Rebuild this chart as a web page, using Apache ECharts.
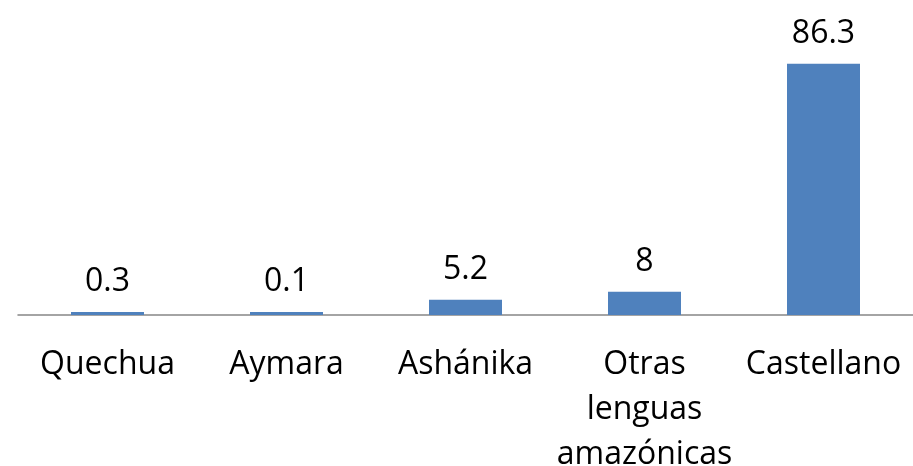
<!DOCTYPE html>
<html>
<head>
    <meta charset="utf-8" />
    <title></title>
    <script src="https://cdn.jsdelivr.net/npm/echarts@6/dist/echarts.min.js"></script>
    <style>
        html, body { margin: 0; padding: 0; background: #fff; }
        #chart { width: 913px; height: 466px; }
    </style>
</head>
<body>
    <div id="chart"></div>
    <script>
        var categories = ["Quechua", "Aymara", "Ashánika", "Otras\nlenguas\namazónicas", "Castellano"];
        var values = [0.3, 0.1, 5.2, 8, 86.3];

        var myChart = echarts.init(document.getElementById("chart"), null, { renderer: "canvas" });

        var option = {
            animation: false,
            grid: { left: 18, right: 0, top: 24, bottom: 151, outerBoundsMode: "none" },
            xAxis: {
                type: "category",
                data: categories,
                axisLine: { lineStyle: { color: "#868686", width: 1.5 } },
                axisTick: { show: false },
                axisLabel: {
                    color: "#000",
                    fontFamily: "Open Sans",
                    fontSize: 32,
                    lineHeight: 45,
                    margin: 27,
                    interval: 0
                }
            },
            yAxis: {
                type: "value",
                min: 0,
                max: 100,
                show: false,
                splitLine: { show: false }
            },
            series: [
                {
                    type: "bar",
                    data: values,
                    barWidth: 73,
                    barMinHeight: 3,
                    itemStyle: { color: "#4F81BD" },
                    label: {
                        show: true,
                        position: "top",
                        distance: 14,
                        color: "#000",
                        fontFamily: "Open Sans",
                        fontSize: 32
                    }
                }
            ]
        };
        myChart.setOption(option);
    </script>
</body>
</html>
